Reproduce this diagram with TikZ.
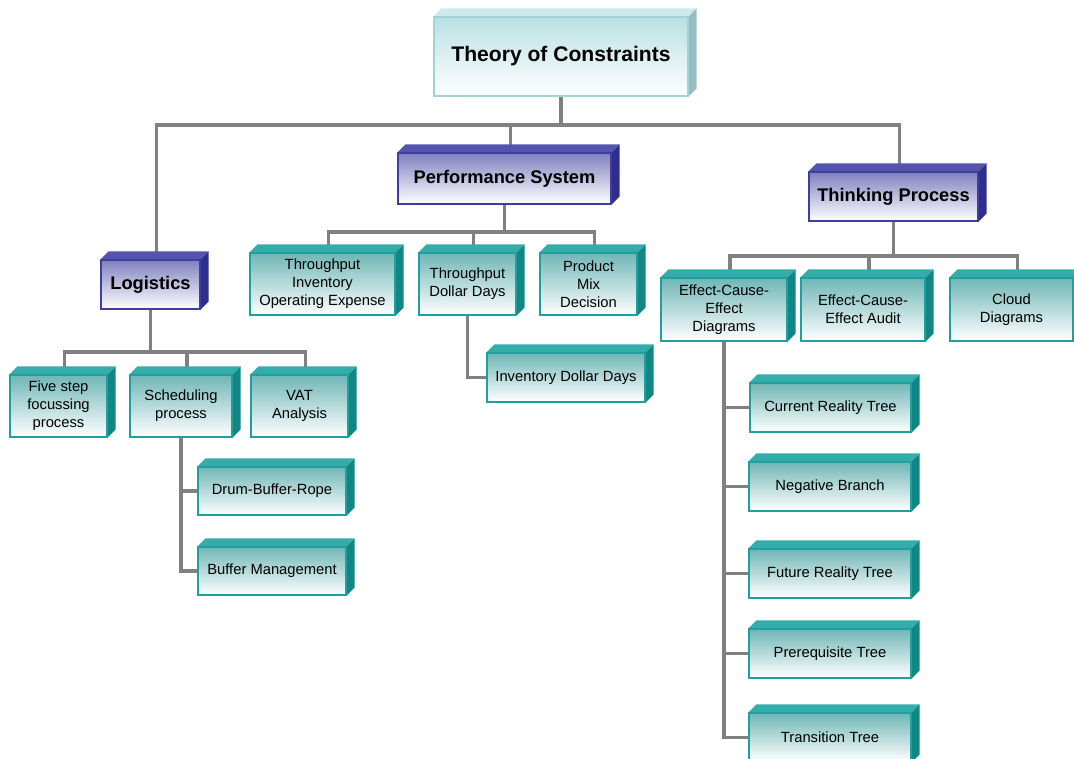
\documentclass[tikz,border=0pt]{standalone}
\usepackage{fontspec}
\setmainfont{Liberation Sans}
\usetikzlibrary{calc, positioning, backgrounds}

\definecolor{tealfront}{RGB}{112,182,182}
\definecolor{tealtop}{RGB}{52,172,170}
\definecolor{tealside}{RGB}{16,135,133}
\definecolor{tealedge}{RGB}{30,160,160}
\definecolor{purfront}{RGB}{128,128,192}
\definecolor{purtop}{RGB}{84,84,172}
\definecolor{purside}{RGB}{46,46,142}
\definecolor{puredge}{RGB}{62,62,162}
\definecolor{tocfront}{RGB}{186,224,228}
\definecolor{toctop}{RGB}{204,234,236}
\definecolor{tocside}{RGB}{150,190,194}
\definecolor{tocedge}{RGB}{160,210,214}
\definecolor{linegray}{RGB}{128,128,128}

\tikzset{
  cube/.style n args={4}{shade, top color=#1, bottom color=white, draw=#4,
    line width=0.8pt, inner sep=1pt, align=center,
    append after command={\pgfextra{\let\cb\tikzlastnode
      \fill[#2] (\cb.north west) -- (\cb.north east) -- ++(0.2cm,0.2cm)
        -- ($(\cb.north west)+(0.2cm,0.2cm)$) -- cycle;
      \fill[#3] (\cb.north east) -- (\cb.south east) -- ++(0.2cm,0.2cm)
        -- ($(\cb.north east)+(0.2cm,0.2cm)$) -- cycle;}}},
  sz/.style 2 args={minimum width=#1*0.025cm, minimum height=#2*0.025cm},
  tealbox/.style={cube={tealfront}{tealtop}{tealside}{tealedge},
    font=\fontsize{10.5}{12.8}\selectfont},
  purbox/.style={cube={purfront}{purtop}{purside}{puredge},
    font=\fontsize{13}{15}\selectfont\bfseries},
  tocbox/.style={cube={tocfront}{toctop}{tocside}{tocedge},
    font=\fontsize{15}{18}\selectfont\bfseries},
  conn/.style={draw=linegray, line width=2.2pt}
}

\begin{document}
\begin{tikzpicture}[x=0.025cm, y=-0.025cm]
  \useasboundingbox (0,0) rectangle (1074,758);
  \clip (0,0) rectangle (1074,758);

  \node[tocbox, sz={254}{79}] (toc) at (561,56.5) {Theory of Constraints};

  \node[purbox, sz={213}{51}] (perf) at (504.5,178.5) {Performance System};
  \node[purbox, sz={169}{49}] (think) at (893.5,196.5) {Thinking Process};
  \node[purbox, sz={99}{49}] (logi) at (150.5,284.5) {Logistics};

  % logistics
  \node[tealbox, sz={97}{62}] (five) at (58.5,406) {Five step\\focussing\\process};
  \node[tealbox, sz={102}{62}] (sched) at (181,406) {Scheduling\\process};
  \node[tealbox, sz={97}{62}] (vat) at (299.5,406) {VAT\\Analysis};
  \node[tealbox, sz={148}{48}] (drb) at (272,491) {Drum-Buffer-Rope};
  \node[tealbox, sz={148}{48}] (bm) at (272,571) {Buffer Management};

  % performance system
  \node[tealbox, sz={145}{62}] (tioe) at (322.5,284) {Throughput\\Inventory\\Operating Expense};
  \node[tealbox, sz={97}{62}] (tdd) at (467.5,284) {Throughput\\Dollar Days};
  \node[tealbox, sz={97}{62}] (pmd) at (588.5,284) {Product\\Mix\\Decision};
  \node[tealbox, sz={158}{49}] (idd) at (566,377.5) {Inventory Dollar Days};

  % thinking process
  \node[tealbox, sz={126}{63}] (ecd) at (724,309.5) {Effect-Cause-\\Effect\\Diagrams};
  \node[tealbox, sz={124}{63}] (eca) at (863,309.5) {Effect-Cause-\\Effect Audit};
  \node[tealbox, sz={123}{63}] (cloud) at (1011.5,309.5) {Cloud\\Diagrams};
  \node[tealbox, sz={161}{49}] (crt) at (830.5,407.5) {Current Reality Tree};
  \node[tealbox, sz={162}{49}] (nb) at (830,486.5) {Negative Branch};
  \node[tealbox, sz={162}{49}] (frt) at (830,573.5) {Future Reality Tree};
  \node[tealbox, sz={162}{49}] (pt) at (830,653.5) {Prerequisite Tree};
  \node[tealbox, sz={162}{49}] (tt) at (830,737.5) {Transition Tree};

  \coordinate (jtop) at (561,125);
  \coordinate (jlog) at (150.5,352);
  \coordinate (jperf) at (504.5,232);
  \coordinate (jthink) at (893.5,256);

  \begin{scope}[on background layer]
    \draw[conn] (toc) -- (jtop);
    \draw[conn] (logi) -- (jlog);
    \draw[conn] (perf) -- (jperf);
    \draw[conn] (think) -- (jthink);

    % branches come in a bit right of the box middle
    \begin{scope}[transform canvas={xshift=0.15cm}]
      \draw[conn] (logi.north) |- (jtop) -| (think.north);
      \draw[conn] (perf.north) -- (perf.north |- jtop);
      \draw[conn] (five.north) |- (jlog) -| (vat.north);
      \draw[conn] (sched.north) -- (sched.north |- jlog);
      \draw[conn] (tioe.north) |- (jperf) -| (pmd.north);
      \draw[conn] (tdd.north) -- (tdd.north |- jperf);
      \draw[conn] (ecd.north) |- (jthink) -| (cloud.north);
      \draw[conn] (eca.north) -- (eca.north |- jthink);
    \end{scope}

    \draw[conn] (sched.south) |- (bm.west);
    \draw[conn] (sched.south |- drb.west) -- (drb.west);
    \draw[conn] (tdd.south) |- (idd.west);
    \draw[conn] (ecd.south) |- (tt.west);
    \foreach \n in {crt, nb, frt, pt}
      \draw[conn] (ecd.south |- \n.west) -- (\n.west);
  \end{scope}
\end{tikzpicture}
\end{document}
